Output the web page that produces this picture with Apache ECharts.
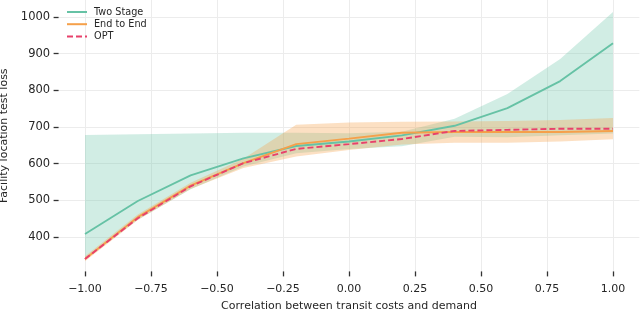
<!DOCTYPE html>
<html><head><meta charset="utf-8">
<script src="https://cdn.jsdelivr.net/npm/echarts@6/dist/echarts.min.js"></script>
<style>html,body{margin:0;padding:0;background:#fff}#c{width:640px;height:313px}</style>
</head><body><div id="c"></div>
<script>
// correlation values (x)
const xs = [-1.0, -0.8, -0.6, -0.4, -0.2, 0.0, 0.2, 0.4, 0.6, 0.8, 1.0];
// Two Stage mean and band
const twoStage   = [408, 498, 568, 614, 648, 660, 677, 703, 751, 825, 928];
const twoStageLo = [338, 447, 530, 592, 628, 640, 647, 673, 672, 677, 682];
const twoStageHi = [678, 680, 682, 684, 684, 683, 687, 722, 790, 885, 1013];
// End to End mean and band
const endToEnd   = [340, 454, 540, 601, 653, 668, 684, 686, 686, 686, 689];
const e2eLo      = [334, 446, 531, 588, 619, 637, 652, 657, 657, 660, 666];
const e2eHi      = [347, 461, 548, 613, 706, 712, 714, 715, 716, 719, 724];
// OPT
const opt        = [340, 451, 538, 601, 640, 653, 667, 689, 692, 695, 695];
// ticks
const xTicks = [-1.0, -0.75, -0.5, -0.25, 0.0, 0.25, 0.5, 0.75, 1.0];
const yTicks = [400, 500, 600, 700, 800, 900, 1000];

const GREEN = '#66c2a5', ORANGE = '#f5a04a', PINK = '#e8416b';
const FONT = 'DejaVu Sans', TXT = '#262626';

const pairs = ys => xs.map((x, i) => [x, ys[i]]);

function band(lo, hi, fill) {
  return {
    type: 'custom', silent: true, z: 1, clip: true,
    data: xs.map((x, i) => [x, lo[i], hi[i]]),
    encode: { x: 0, y: [1, 2] },
    renderItem: function (params, api) {
      if (params.dataIndex !== 0) return null;
      const top = xs.map((x, i) => api.coord([x, hi[i]]));
      const bot = xs.map((x, i) => api.coord([x, lo[i]])).reverse();
      return { type: 'polygon', shape: { points: top.concat(bot) }, style: { fill: fill } };
    }
  };
}

const chart = echarts.init(document.getElementById('c'), null, { renderer: 'canvas' });
chart.setOption({
  animation: false,
  backgroundColor: '#fff',
  textStyle: { fontFamily: FONT },
  grid: { left: 58.6, width: 580.8, top: 0, height: 271.4, containLabel: false, outerBoundsMode: 'none' },
  legend: {
    data: ['Two Stage', 'End to End', 'OPT'],
    orient: 'vertical', left: 66, top: 7, padding: 0,
    itemWidth: 20, itemHeight: 11, itemGap: 2.2,
    itemStyle: { opacity: 0, borderWidth: 0 },
    textStyle: { fontFamily: FONT, fontSize: 9.7, color: TXT, padding: [0, 0, 0, 2] }
  },
  xAxis: {
    type: 'value', min: -1.1, max: 1.1,
    name: 'Correlation between transit costs and demand',
    nameLocation: 'middle', nameGap: 29,
    nameTextStyle: { fontFamily: FONT, fontSize: 11, color: TXT },
    axisLine: { show: false, onZero: false },
    axisTick: { show: true, customValues: xTicks, length: 5, lineStyle: { color: '#333', width: 1.3 } },
    axisLabel: { customValues: xTicks, margin: 12, fontFamily: FONT, fontSize: 11, color: TXT,
      formatter: v => (Math.abs(v) < 1e-9 ? '0.00' : v.toFixed(2).replace('-', '\u2212')) },
    splitLine: { show: true, lineStyle: { color: '#ececec', width: 1 } }
  },
  yAxis: {
    type: 'value', min: 306, max: 1046,
    name: 'Facility location test loss',
    nameLocation: 'middle', nameGap: 46,
    nameTextStyle: { fontFamily: FONT, fontSize: 11, color: TXT },
    axisLine: { show: false, onZero: false },
    axisTick: { show: true, customValues: yTicks, length: 5, lineStyle: { color: '#333', width: 1.3 } },
    axisLabel: { customValues: yTicks, margin: 8.5, fontFamily: FONT, fontSize: 11.5, color: TXT,
      formatter: v => String(v) },
    splitLine: { show: true, lineStyle: { color: '#ececec', width: 1 } }
  },
  series: [
    band(twoStageLo, twoStageHi, 'rgba(102,194,165,0.3)'),
    band(e2eLo, e2eHi, 'rgba(245,160,74,0.33)'),
    { name: 'Two Stage', type: 'line', data: pairs(twoStage), symbol: 'none', z: 3,
      itemStyle: { color: GREEN }, lineStyle: { color: GREEN, width: 1.9 } },
    { name: 'End to End', type: 'line', data: pairs(endToEnd), symbol: 'none', z: 3,
      itemStyle: { color: ORANGE }, lineStyle: { color: ORANGE, width: 1.9 } },
    { name: 'OPT', type: 'line', data: pairs(opt), symbol: 'none', z: 4,
      itemStyle: { color: PINK }, lineStyle: { color: PINK, width: 1.9, type: [6, 3] } }
  ]
});
</script>
</body></html>
